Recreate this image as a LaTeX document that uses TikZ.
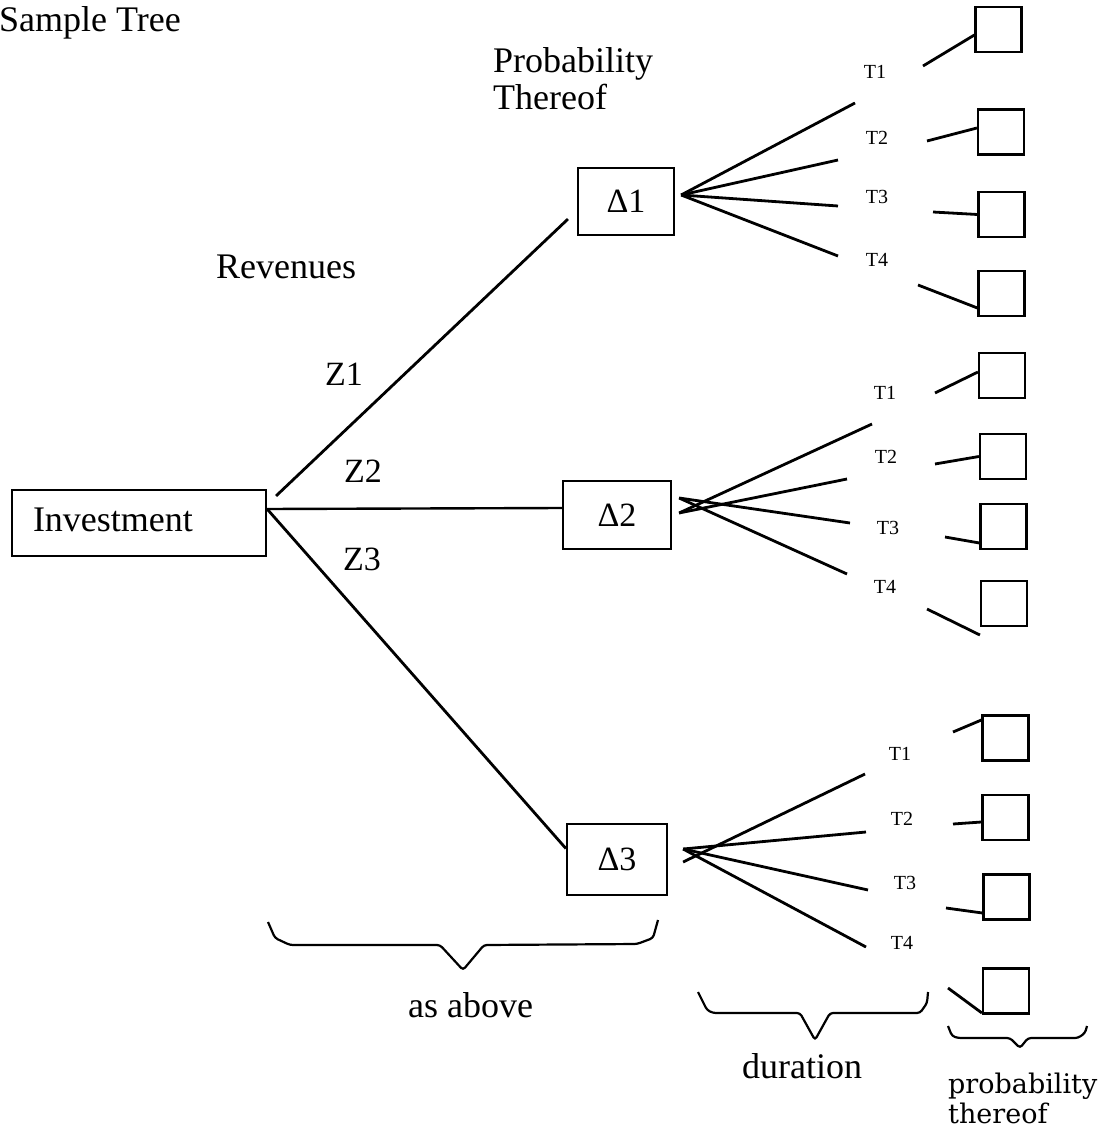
\documentclass[tikz,border=0pt]{standalone}
\usepackage{fontspec}
\setmainfont{Liberation Serif}
\newfontfamily\widefont{DejaVu Serif}
\usepackage{tikz}

\begin{document}
\begin{tikzpicture}[x=1pt,y=-1pt,
    txt/.style={font=\fontsize{36}{37}\selectfont, inner sep=0pt, anchor=base west},
    tlab/.style={font=\fontsize{20}{20}\selectfont, inner sep=0pt},
    dbox/.style={draw, line width=2.2pt, font=\fontsize{34}{34}\selectfont, inner sep=0pt},
    pbox/.style={draw, line width=2.2pt, minimum width=46pt, minimum height=45pt, inner sep=0pt},
    edge/.style={line width=2.8pt},
    brace/.style={line width=2.2pt, rounded corners=3pt}]
  \useasboundingbox (0,0) rectangle (1113,1131);

  % headings
  \node[txt] (title) at (-1,32) {Sample Tree};
  \node[txt] (probA) at (493,73) {Probability};
  \node[txt] (probB) at (493,110) {Thereof};
  \node[txt] (rev) at (216,279) {Revenues};
  \node[txt, font=\fontsize{34}{34}\selectfont] (z1) at (325,385) {Z1};
  \node[txt, font=\fontsize{34}{34}\selectfont] (z2) at (344,482) {Z2};
  \node[txt, font=\fontsize{34}{34}\selectfont] (z3) at (343,570) {Z3};

  % investment and the three outcomes
  \node[draw, line width=2.2pt, font=\fontsize{36}{37}\selectfont, minimum width=254pt, minimum height=66pt,
        inner xsep=21pt, inner ysep=0pt, text width=212pt, text depth=6pt, align=left] (inv) at (139,523) {Investment};
  \node[dbox, minimum width=96pt, minimum height=67pt] (d1) at (626,201.5) {Δ1};
  \node[dbox, minimum width=108pt, minimum height=68pt] (d2) at (617,515) {Δ2};
  \node[dbox, minimum width=100pt, minimum height=71pt] (d3) at (617,859.5) {Δ3};

  \draw[edge] ([shift={(9,7)}]inv.north east) -- ([shift={(-9,-17)}]d1.south west);
  \draw[line width=2.4pt] ([yshift=14pt]inv.east) -- ([yshift=7pt]d2.west);
  \draw[edge] ([yshift=14pt]inv.east) -- ([yshift=11pt]d3.west);

  % durations
  \foreach \p in {(855,103),(838,160),(838,206),(838,256)}
    \draw[edge] ([shift={(6,-6.5)}]d1.east) -- \p;
  \foreach \p in {(872,424),(847,479)}
    \draw[edge] ([shift={(7,-2)}]d2.east) -- \p;
  \foreach \p in {(850,523),(847,574)}
    \draw[edge] ([shift={(7,-17)}]d2.east) -- \p;
  \draw[edge] ([shift={(15,2.5)}]d3.east) -- (865,774);
  \foreach \p in {(866,832),(868,890),(866,947)}
    \draw[edge] ([shift={(15,-10.5)}]d3.east) -- \p;

  \foreach \n/\x/\y in {1/875/72, 2/877/138, 3/877/197, 4/877/260}
    \node[tlab] (ta\n) at (\x,\y) {T\n};
  \foreach \n/\x/\y in {1/885/393, 2/886/457, 3/888/528, 4/885/587}
    \node[tlab] (tb\n) at (\x,\y) {T\n};
  \foreach \n/\x/\y in {1/900/754, 2/902/819, 3/905/883, 4/902/943}
    \node[tlab] (tc\n) at (\x,\y) {T\n};

  % probability boxes
  \foreach \n/\x/\y in {1/998.5/29.5, 2/1001/132, 3/1001.5/214.5, 4/1001.5/293.5}
    \node[pbox] (pa\n) at (\x,\y) {};
  \foreach \n/\x/\y in {1/1002/375.5, 2/1003/456.5, 3/1003.5/526.5, 4/1004/603.5}
    \node[pbox] (pb\n) at (\x,\y) {};
  \foreach \n/\x/\y in {1/1005.5/738, 2/1005.5/817.5, 3/1006.5/897, 4/1006/991}
    \node[pbox] (pc\n) at (\x,\y) {};

  \draw[edge] (923,66) -- ([yshift=-5.5pt]pa1.west);
  \draw[edge] (927,141) -- ([yshift=4pt]pa2.west);
  \draw[edge] (933,212) -- (pa3.west);
  \draw[edge] (918,285) -- ([yshift=-14.5pt]pa4.west);
  \draw[edge] (935,393) -- ([yshift=3.5pt]pb1.west);
  \draw[edge] (935,464) -- (pb2.west);
  \draw[edge] (945,537) -- ([yshift=-16.5pt]pb3.west);
  \draw[edge] (927,609) -- ([yshift=-31.5pt]pb4.west);
  \draw[edge] (953,732) -- ([yshift=18pt]pc1.west);
  \draw[edge] (953,824) -- ([yshift=-4.5pt]pc2.west);
  \draw[edge] (946,908) -- ([yshift=-16pt]pc3.west);
  \draw[edge] (948,988) -- ([yshift=-22pt]pc4.west);

  % braces
  \draw[brace] (268,922) -- (275,938) -- (290,945) -- (440,945) -- (463,970)
    -- (484,945) -- (637,944) -- (653,938) -- (658,920);
  \draw[brace] (698,992) -- (707,1010) -- (713,1013) -- (800,1013) -- (815,1040)
    -- (830,1013) -- (920,1013) -- (927,1003) -- (928,992);
  \draw[brace] (948,1026) -- (952,1036) -- (958,1038) -- (1010,1038) -- (1020,1048)
    -- (1028,1038) -- (1078,1038) -- (1085,1033) -- (1087,1026);

  \node[txt] (same) at (408,1017) {as above};
  \node[txt] (dur) at (742,1078) {duration};
  \node[txt, font=\widefont\fontsize{27}{28}\selectfont] (probC) at (948,1093) {probability};
  \node[txt, font=\widefont\fontsize{27}{28}\selectfont] (probD) at (948,1123) {thereof};
\end{tikzpicture}
\end{document}
